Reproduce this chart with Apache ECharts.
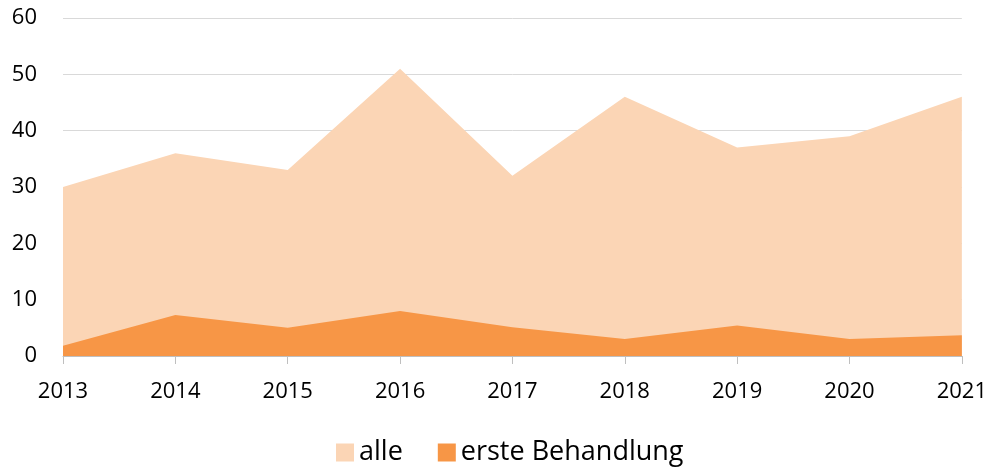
<!DOCTYPE html>
<html>
<head>
<meta charset="utf-8">
<title>Behandlungen</title>
<script src="https://cdn.jsdelivr.net/npm/echarts@6/dist/echarts.min.js"></script>
<style>
  html, body { margin: 0; padding: 0; background: #fff; }
  #chart { width: 990px; height: 470px; }
</style>
</head>
<body>
<div id="chart"></div>
<script>
// Daten
var years = ['2013', '2014', '2015', '2016', '2017', '2018', '2019', '2020', '2021'];
var alle = [30, 36, 33, 51, 32, 46, 37, 39, 46];
var ersteBehandlung = [1.8, 7.3, 5, 8, 5.1, 3, 5.4, 3, 3.7];

var chart = echarts.init(document.getElementById('chart'));
var font = '"Open Sans", "DejaVu Sans", sans-serif';

chart.setOption({
    animation: false,
    grid: { left: 63, right: 28, top: 18, bottom: 114 },
    legend: {
        left: 331,
        top: 434,
        icon: 'rect',
        itemWidth: 18,
        itemHeight: 18,
        itemGap: 35,
        textStyle: { fontFamily: font, fontSize: 27, color: '#000' },
        data: ['alle', 'erste Behandlung']
    },
    xAxis: {
        type: 'category',
        boundaryGap: false,
        data: years,
        axisLine: { lineStyle: { color: '#BFBFBF', width: 1 } },
        axisTick: { show: true, length: 8, lineStyle: { color: '#BFBFBF' } },
        axisLabel: { fontFamily: font, fontSize: 22, color: '#000', margin: 25 }
    },
    yAxis: {
        type: 'value',
        min: 0,
        max: 60,
        interval: 10,
        axisLine: { show: false },
        axisTick: { show: false },
        splitLine: { lineStyle: { color: '#D9D9D9', width: 1 } },
        axisLabel: { fontFamily: font, fontSize: 22, color: '#000', margin: 26 }
    },
    series: [
        {
            name: 'alle',
            type: 'line',
            data: alle,
            symbol: 'none',
            lineStyle: { width: 0 },
            itemStyle: { color: '#FBD5B5' },
            areaStyle: { color: '#FBD5B5', opacity: 1 }
        },
        {
            name: 'erste Behandlung',
            type: 'line',
            data: ersteBehandlung,
            symbol: 'none',
            lineStyle: { width: 0 },
            itemStyle: { color: '#F79646' },
            areaStyle: { color: '#F79646', opacity: 1 }
        }
    ]
});
</script>
</body>
</html>
